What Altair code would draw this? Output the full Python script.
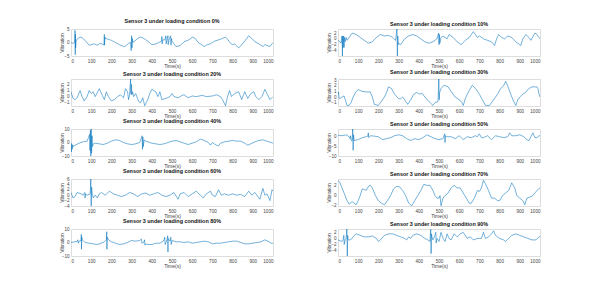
import altair as alt
import pandas as pd

# ---- data (time in s, vibration value) ----
t_00 = [0, 10, 18, 20, 21, 22, 23, 25, 30, 40, 50, 60, 75, 90, 100, 115, 130, 145, 160, 163, 165, 166, 168, 170, 185, 200, 220, 240, 260, 270, 285, 295, 298, 300, 302, 304, 306, 315, 330, 345, 360, 380, 400, 420, 435, 448, 450, 451, 455, 465, 470, 471, 475, 480, 481, 485, 493, 495, 497, 500, 520, 540, 560, 585, 600, 615, 630, 650, 660, 675, 690, 710, 740, 765, 775, 790, 800, 810, 830, 840, 860, 880, 895, 910, 930, 950, 960, 975, 985, 995, 1000]
v_00 = [0, -0.3, 0, 4.5, -4.5, 3, -2, 0.5, 1.2, 1.8, 2, 1.5, 0.3, -1, -0.8, -0.5, -1, -0.3, -0.8, -1, 3, -1, 2, 1.5, 1.2, 0.8, 0, -0.8, -1.5, -1.3, -0.3, 0, -3, 2.5, -2, 1.5, 0, 0.5, 1.5, 2, 1.5, 0.5, -0.8, -0.5, 0, 0.5, 2.2, -0.5, 1, 1, 2.5, -0.5, 1, 2.5, -0.8, 1, 2.5, -1, 1.5, 0.5, -1.5, -1.2, 0.3, 1, 2, 1.5, 0, -1, -1.5, -0.8, -0.5, 0.5, 1.2, 2, 1.2, -0.3, -0.8, -0.5, -2, -1.3, 0.5, 2.5, 1.5, 0.3, -0.5, -1.5, -0.8, -1.2, -1.5, -0.5, 0]

t_10 = [0, 10, 15, 20, 22, 23, 25, 28, 30, 32, 35, 40, 45, 50, 70, 90, 110, 130, 150, 170, 190, 210, 230, 250, 270, 285, 292, 294, 296, 298, 300, 310, 320, 330, 350, 370, 390, 410, 430, 450, 470, 490, 498, 500, 502, 504, 510, 520, 540, 550, 570, 590, 610, 630, 650, 670, 690, 700, 720, 740, 760, 775, 785, 795, 810, 825, 840, 860, 880, 890, 905, 915, 930, 945, 955, 975, 985, 1000]
v_10 = [-0.5, -1, -1.5, 1, -5.9, 1, -3, 1, -3, 0.5, -1, 0.5, -0.5, 0, 2, 1.5, 0.5, -0.5, -1.5, -1, 0.5, 1.5, 1, 1.2, 0.5, -0.5, 3.4, -5.9, 1, -2, -1.5, -2, -1, 0, 1, 1.5, 1, 0, -1, -1.5, -1, 0, 2, -2, 1.5, -1.5, 0.5, 1, 0, 1.5, 0.5, -1, -2, -0.5, 0.5, 2.5, 0.5, 1, 0, -0.5, -1, -2.3, 0, 1.5, 0.5, 0, 1, 0.5, -1, -1.5, -2.3, 0, 1.5, 0.5, -0.5, 2, 1.5, 0]

t_20 = [0, 10, 20, 30, 45, 55, 65, 80, 90, 100, 110, 120, 140, 155, 165, 175, 185, 200, 215, 230, 245, 260, 270, 280, 285, 290, 295, 297, 299, 301, 305, 310, 320, 335, 345, 355, 365, 380, 390, 400, 420, 430, 440, 450, 470, 490, 500, 510, 530, 550, 560, 580, 600, 620, 650, 670, 700, 720, 740, 750, 765, 775, 785, 795, 810, 830, 845, 860, 875, 890, 905, 915, 930, 945, 960, 970, 985, 1000]
v_20 = [0.8, -0.3, -0.5, -0.2, 1, 0, -0.7, 0, 1, 0.5, 0.8, 0, 1.3, 0.2, -0.5, 0.8, 0, -0.7, -0.5, 0, 0.3, -0.2, 1.3, 0.8, -0.5, 0.3, 2.9, 0.4, 2, 0.3, 0.8, 0, 0.5, -0.8, -1, -0.2, -1.5, -0.5, 0.5, 1.2, 0.8, 0, 0.8, -0.5, -0.3, 0, 0.5, 0, -0.2, 0.2, 0.3, -0.2, 0.1, 0, 0.2, 0, 0.1, 0.3, 0, -0.5, -1.5, 0, 1, 0, 0.5, 0.8, -0.5, 0.8, -0.3, 0.5, 0.8, 0, -0.5, 0, 1.2, 0.5, -0.5, 0]

t_30 = [0, 3, 5, 10, 20, 30, 45, 55, 65, 75, 90, 100, 120, 140, 160, 170, 180, 200, 210, 230, 240, 250, 265, 280, 300, 310, 320, 330, 345, 360, 375, 390, 405, 415, 430, 450, 470, 480, 495, 499, 501, 503, 510, 525, 545, 560, 580, 600, 610, 620, 630, 640, 655, 665, 680, 700, 715, 730, 750, 770, 790, 805, 820, 830, 840, 855, 870, 880, 890, 900, 915, 930, 945, 960, 985, 990, 995, 1000]
v_30 = [0.5, 0.9, -0.2, -0.3, 0, 0.2, -1.5, -1.5, -1, 0, 1, 1.3, 1, 0.9, 0.9, 0, -1.3, -1.5, -1, 0, 0.8, 1.8, 1.5, 0.5, -0.3, -0.3, 0, -0.5, -1.3, -0.5, 0.5, 0.8, 0.5, 0.7, 0, -0.8, -1.5, -1, -0.8, 3.2, -0.5, 0.8, 1.5, 2.1, 1.8, 1, 0, -0.5, -0.8, -1.5, -0.3, 0.5, 1.5, 2.1, 1.5, 0.5, -0.5, -1.5, -1.5, -0.5, 0.5, 1.5, 2, 2.8, 2, 0.5, -0.8, -1.5, -0.5, 0, 0.5, 0.9, 1.5, 1.8, 1.8, 1.5, 0.5, 0]

t_40 = [0, 2, 4, 6, 8, 10, 20, 40, 60, 80, 92, 94, 96, 98, 100, 102, 104, 106, 110, 120, 140, 160, 180, 200, 220, 240, 260, 280, 300, 320, 340, 352, 354, 356, 358, 362, 370, 390, 400, 420, 440, 460, 480, 500, 520, 540, 560, 580, 600, 620, 640, 660, 680, 690, 700, 720, 730, 740, 760, 780, 800, 820, 840, 860, 875, 890, 910, 930, 950, 970, 990, 1000]
v_40 = [0, -7, -1, -5, -2, -3, -2, -0.5, 0.5, 1, 6, -6, 9, -10, 10, -8, 5, -3, -1, -0.5, -1, -1.5, -0.5, 1, 2, 1.5, 0, -1, -1.5, -1, 0, 5, -5, 4, -3, 2, 1, 0, -0.5, -1, -1.5, -1, 0, 1, 1.5, 0.5, -0.5, -1.5, -0.5, 0.5, 2.5, 1.5, 0, -2, 0, -2, -2.5, -0.5, 0.5, 1, 1.5, 1, 1, -0.5, -2, -1, 0.5, 1.5, 2, 1, 0, -0.5]

t_50 = [0, 20, 40, 55, 60, 62, 65, 70, 73, 75, 77, 80, 100, 120, 140, 148, 150, 152, 160, 180, 200, 220, 240, 260, 280, 300, 320, 340, 360, 380, 400, 420, 440, 460, 480, 500, 520, 528, 530, 532, 540, 560, 580, 600, 620, 640, 660, 680, 690, 700, 710, 720, 740, 760, 780, 800, 820, 840, 850, 860, 880, 900, 920, 935, 945, 955, 965, 975, 985, 995, 1000]
v_50 = [0.8, 0.5, 1, 0, -1, 0.5, -2, -2, 4, -7, 1, -2, -1.5, -0.5, 0, 0.3, 2, -0.5, 0.5, 0.3, 0, -1.5, -1, -0.5, 0.5, 1, 0.5, -1, -2, -1, -1.5, -0.5, 1, 0, -1, -1.5, -1, 1.5, -3, 0.5, 0, 0, -1, 0.5, -1.5, 0, -0.5, 0.5, 0, 1.5, -0.5, -0.5, 0.5, -1.5, 0.5, 0, -0.5, 0, 2, 0.5, 0.5, 1, 0, -1.5, -2, 0, 2, -0.5, -0.5, 0.5, 0.5]

t_60 = [0, 10, 20, 30, 50, 60, 68, 70, 72, 80, 95, 98, 100, 102, 105, 110, 120, 130, 140, 150, 170, 190, 210, 230, 250, 270, 290, 310, 330, 350, 370, 390, 410, 430, 450, 470, 490, 510, 520, 530, 540, 560, 580, 600, 620, 640, 655, 670, 690, 700, 715, 730, 745, 760, 780, 800, 820, 840, 860, 880, 895, 910, 925, 935, 950, 960, 970, 985, 995, 1000]
v_60 = [1, -1, -0.5, 1, 0.5, 0, 1, -1, 0.5, 0, 0.5, 6, -4, 3, 0.5, -1, 0, -1, 0.5, 1, 0, 1.5, 0.5, 0, -0.5, 0, 1, 0.5, -0.5, 0.5, 0.8, 0, 0.5, 1, 0, -0.5, 0, 1, -0.3, -1.5, 0.5, 1, -0.5, 0.5, 1.5, 0, -1, 0.5, 1.5, 0, -0.5, 2, 0, 0.5, 0, 0.5, 0, 0.3, -0.5, 1.5, 0, 1, -0.5, -1.5, 2.5, 0, 0.5, -2, 2, 1.5]

t_70 = [0, 10, 20, 30, 45, 55, 70, 80, 90, 100, 110, 120, 130, 140, 150, 160, 170, 185, 200, 215, 230, 245, 260, 275, 290, 305, 320, 335, 350, 365, 380, 395, 410, 425, 440, 455, 470, 480, 490, 500, 505, 510, 520, 530, 545, 560, 575, 590, 605, 620, 635, 650, 660, 675, 690, 700, 710, 720, 730, 745, 760, 775, 790, 800, 815, 830, 845, 860, 875, 885, 900, 915, 925, 935, 950, 965, 980, 1000]
v_70 = [3, 2.5, 1.5, 0.5, -1, -1.7, -1.2, -1.5, -1.8, -1, 0, 1.3, 1.2, 1, 1.8, 2, 1.5, 0, -1, -1.5, -1.8, -1, 0, 1.3, 1.8, 1.7, 1, 0, -1.5, -2, -1, 0, 1, 2.2, 2, 2, 1, 0, -0.5, -0.5, 0, -2, -0.5, 0, 0.5, 1.5, 2, 1.5, 1.5, 0.5, -0.5, -1.5, -1.5, -0.5, 1, 0.8, 1.5, 3, 2.3, 1, -0.5, -0.5, -1, -1, 0, 0.5, 1, 2.5, 1.5, 0, -0.5, -1, -1.8, -0.5, -0.3, 0, 0.8, 1.5]

t_80 = [0, 20, 30, 34, 36, 40, 50, 51, 52, 53, 55, 60, 70, 90, 110, 130, 150, 165, 175, 177, 178, 179, 185, 200, 220, 240, 260, 280, 300, 320, 340, 349, 351, 360, 364, 366, 370, 380, 400, 420, 440, 460, 464, 466, 475, 479, 480, 481, 490, 494, 496, 500, 520, 540, 560, 580, 600, 620, 640, 660, 680, 700, 720, 740, 760, 780, 800, 820, 840, 860, 880, 900, 920, 940, 960, 975, 990, 1000]
v_80 = [0, 0.5, 0.8, 2, -0.5, 1, 1.5, 6, -5, 4, 2, 1.5, 0, -0.5, -1, -1.5, -0.5, 0.5, 2, 8, -5, 4, 2, 0.5, -0.5, -1.5, -1, 0, 1.5, 1, 1.5, 2.5, -0.5, 0, 2, -2, -1, -1.5, -1.5, -0.5, -0.5, 1.5, 4, -1.5, 2, 5, -7, 3, 1, 4, -1.5, 1.5, 0.5, 0.5, 0, 0.5, -0.5, 0, 0.5, 1, 0.5, -1, -0.5, -0.5, 0, 0.5, 1, 1, 0, -1, -1, -0.5, 0, 0.5, 2, 1, -0.5, -0.5]

t_90 = [0, 10, 20, 25, 29, 31, 35, 40, 44, 46, 48, 50, 60, 70, 80, 90, 110, 130, 150, 170, 190, 200, 210, 230, 250, 270, 290, 310, 330, 340, 350, 360, 370, 390, 410, 430, 445, 455, 459, 461, 463, 465, 470, 480, 484, 486, 490, 500, 510, 520, 530, 540, 550, 560, 575, 590, 605, 620, 640, 655, 670, 690, 710, 720, 730, 745, 760, 770, 780, 790, 800, 820, 830, 845, 860, 880, 900, 920, 940, 960, 980, 995, 1000]
v_90 = [-0.5, -0.8, -1, -0.5, 1, -2, -0.5, 0, 3.1, -5.8, 1, -0.5, -0.5, 0, 1, 1.5, 1, 0.5, 0.5, 0.8, 0, -1, -0.5, 1, 1.5, 1.5, 1, 0.5, 0, -0.5, 0.5, 0, 1, 1.5, 1, 0, -0.5, -1, 3, -5, 1.5, 0.5, -0.5, 1, 2, -1.5, 0, -1, 2, 0, -1, 1.5, 0, -0.5, 1.5, 0.5, 1.5, 2, 0, 0.5, -0.5, 0, 0, 2, 0, 0.5, 1.5, 2.5, 1, 0.5, 0, -0.5, -1, 0, 1, 1.5, 1, 0.5, 0, -0.5, -0.5, 0.5, 0.5]

titles = ["Sensor 3 under loading condition 0%", "Sensor 3 under loading condition 10%",
          "Sensor 3 under loading condition 20%", "Sensor 3 under loading condition 30%",
          "Sensor 3 under loading condition 40%", "Sensor 3 under loading condition 50%",
          "Sensor 3 under loading condition 60%", "Sensor 3 under loading condition 70%",
          "Sensor 3 under loading condition 80%", "Sensor 3 under loading condition 90%"]
y_domains = [[-5, 5], [-5.9, 3.4], [-1.55, 2.9], [-1.6, 3.2], [-10, 10],
             [-10, 4], [-4, 6], [-2.05, 3.25], [-10, 10], [-5.8, 3.1]]
y_ticks = [[-5, 0, 5], [-4, -2, 0, 2], [-1, 0, 1, 2], [-1, 0, 1, 2, 3], [-10, 0, 10],
           [-10, -5, 0], [-4, -2, 0, 2, 4, 6], [-2, 0, 2], [-10, 0, 10], [-4, -2, 0, 2]]
x_ticks = list(range(0, 1001, 100))

series = [(t_00, v_00), (t_10, v_10), (t_20, v_20), (t_30, v_30), (t_40, v_40),
          (t_50, v_50), (t_60, v_60), (t_70, v_70), (t_80, v_80), (t_90, v_90)]

FONT = "Liberation Sans"
LINE = "#0072BD"


def panel(i):
    t, v = series[i]
    df = pd.DataFrame({"t": t, "v": v})
    return alt.Chart(
        df,
        title=alt.Title(titles[i], fontSize=5.4, fontWeight="bold", font=FONT,
                        color="#111111", offset=2),
    ).mark_line(color=LINE, strokeWidth=0.55, clip=True).encode(
        x=alt.X("t:Q", scale=alt.Scale(domain=[0, 1000], nice=False),
                axis=alt.Axis(values=x_ticks, format="d", title="Time(s)", grid=False,
                              ticks=False, domain=False, labelFontSize=4.6, labelFont=FONT,
                              labelColor="#444444", labelPadding=2,
                              titleFontSize=5, titleFont=FONT, titleFontWeight="normal",
                              titleColor="#444444", titlePadding=1)),
        y=alt.Y("v:Q", scale=alt.Scale(domain=y_domains[i], nice=False, zero=False),
                axis=alt.Axis(values=y_ticks[i], format="d", title="Vibration", grid=False,
                              ticks=False, domain=False, labelFontSize=4.6, labelFont=FONT,
                              labelColor="#444444", labelPadding=2,
                              titleFontSize=5, titleFont=FONT, titleFontWeight="normal",
                              titleColor="#444444", titleX=-10, titleY=13.5,
                              titleBaseline="middle")),
    ).properties(width=202, height=27)


chart = alt.concat(*[panel(i) for i in range(10)], columns=2,
                   spacing={"row": 23, "column": 65}, bounds="flush").properties(
    padding={"left": 50, "top": 10, "right": 5, "bottom": 5}
).configure_view(stroke="#a0a0a0", strokeWidth=0.6).configure(background="#ffffff")

chart.save("out.html", embed_options={"renderer": "svg", "actions": False})
